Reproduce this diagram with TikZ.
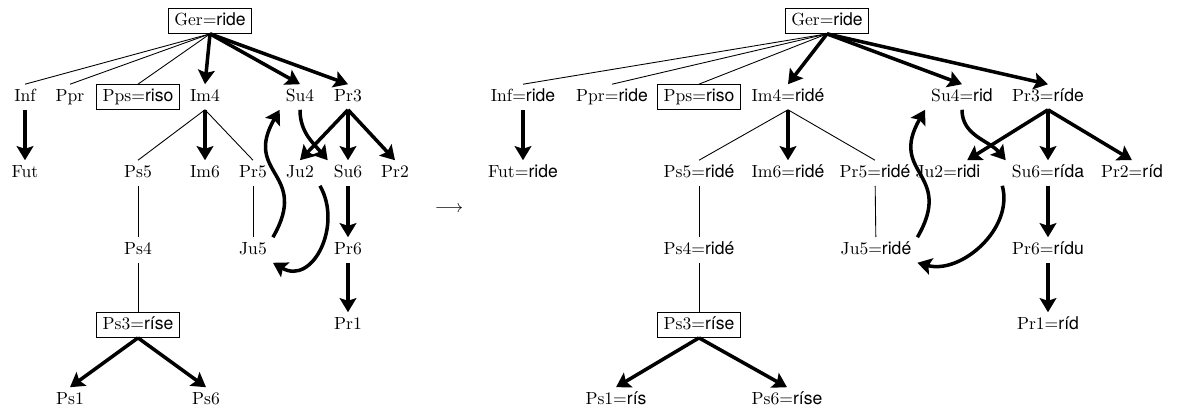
\documentclass[tikz,border=0pt]{standalone}
\usepackage{fontspec}
\setsansfont{TeX Gyre Heros}
\usetikzlibrary{arrows.meta}
\newcommand{\wform}[2]{#1=\textsf{#2}}

\begin{document}
\begin{tikzpicture}[
  x=0.2mm, y=-0.2mm,
  nd/.style={inner sep=3.3pt, text height=1.5ex, text depth=.25ex},
  box/.style={nd, draw, line width=0.5pt},
  ln/.style={line width=0.5pt},
  arr/.style={-{Stealth[length=8pt,width=9.5pt,inset=1.5pt]}, line width=2pt},
]
\useasboundingbox (0,0) rectangle (1180,409);

% left tree
\node[box] (lGer) at (210,21)  {\wform{Ger}{ride}};
\node[nd]  (lInf) at (25,97)   {Inf};
\node[nd]  (lPpr) at (70,97)   {Ppr};
\node[box] (lPps) at (138,97)  {\wform{Pps}{riso}};
\node[nd]  (lIm4) at (205,97)  {Im4};
\node[nd]  (lSu4) at (300,97)  {Su4};
\node[nd]  (lPr3) at (348,97)  {Pr3};
\node[nd]  (lFut) at (25,173)  {Fut};
\node[nd]  (lPs5) at (138,173) {Ps5};
\node[nd]  (lIm6) at (205,173) {Im6};
\node[nd]  (lPr5) at (253,173) {Pr5};
\node[nd]  (lJu2) at (300,173) {Ju2};
\node[nd]  (lSu6) at (348,173) {Su6};
\node[nd]  (lPr2) at (395,173) {Pr2};
\node[nd]  (lPs4) at (138,250) {Ps4};
\node[nd]  (lJu5) at (253,250) {Ju5};
\node[nd]  (lPr6) at (348,250) {Pr6};
\node[box] (lPs3) at (138,325) {\wform{Ps3}{ríse}};
\node[nd]  (lPr1) at (348,325) {Pr1};
\node[nd]  (lPs1) at (70,400)  {Ps1};
\node[nd]  (lPs6) at (206,400) {Ps6};

\draw[ln]  (lGer.south) -- (lInf.north);
\draw[ln]  (lGer.south) -- (lPpr.north);
\draw[ln]  (lGer.south) -- (lPps.north);
\draw[arr] (lGer.south) -- (lIm4.north);
\draw[arr] (lGer.south) -- (lSu4.north);
\draw[arr] (lGer.south) -- (lPr3.north);
\draw[arr] (lInf) -- (lFut);
\draw[ln]  (lIm4.south) -- (lPs5.north);
\draw[arr] (lIm4) -- (lIm6);
\draw[ln]  (lIm4.south) -- (lPr5.north);
\draw[arr] (lPr3.south) -- (lJu2.north);
\draw[arr] (lPr3) -- (lSu6);
\draw[arr] (lPr3.south) -- (lPr2.north);
\draw[arr] (lSu4.south) to[out=-90, in=130] (lSu6.north west);
\draw[ln]  (lPs5) -- (lPs4);
\draw[ln]  (lPs4) -- (lPs3);
\draw[ln]  (lPr5) -- (lJu5);
\draw[arr] (lSu6) -- (lPr6);
\draw[arr] (lPr6) -- (lPr1);
\draw[arr] (lJu5.north east) to[out=60, in=-120, looseness=1.5] (lSu4.south west);
\draw[arr] (lJu2.south east) to[out=-60, in=-30, looseness=1.3] (lJu5.south east);
\draw[arr] (lPs3.south) -- (lPs1.north);
\draw[arr] (lPs3.south) -- (lPs6.north);

\node (arrow) at (449,209) {$\longrightarrow$};

% right tree
\node[box] (rGer) at (827,21)   {\wform{Ger}{ride}};
\node[nd]  (rInf) at (523,97)   {\wform{Inf}{ride}};
\node[nd]  (rPpr) at (612,97)   {\wform{Ppr}{ride}};
\node[box] (rPps) at (699,97)   {\wform{Pps}{riso}};
\node[nd]  (rIm4) at (788,97)   {\wform{Im4}{ridé}};
\node[nd]  (rSu4) at (962,97)   {\wform{Su4}{rid}};
\node[nd]  (rPr3) at (1048,97)  {\wform{Pr3}{ríde}};
\node[nd]  (rFut) at (523,173)  {\wform{Fut}{ride}};
\node[nd]  (rPs5) at (699,173)  {\wform{Ps5}{ridé}};
\node[nd]  (rIm6) at (788,173)  {\wform{Im6}{ridé}};
\node[nd]  (rPr5) at (875,173)  {\wform{Pr5}{ridé}};
\node[nd]  (rJu2) at (948,173)  {\wform{Ju2}{ridi}};
\node[nd]  (rSu6) at (1048,173) {\wform{Su6}{rída}};
\node[nd]  (rPr2) at (1132,173) {\wform{Pr2}{ríd}};
\node[nd]  (rPs4) at (699,250)  {\wform{Ps4}{ridé}};
\node[nd]  (rJu5) at (876,250)  {\wform{Ju5}{ridé}};
\node[nd]  (rPr6) at (1048,250) {\wform{Pr6}{rídu}};
\node[box] (rPs3) at (699,325)  {\wform{Ps3}{ríse}};
\node[nd]  (rPr1) at (1048,325) {\wform{Pr1}{ríd}};
\node[nd]  (rPs1) at (616,400)  {\wform{Ps1}{rís}};
\node[nd]  (rPs6) at (787,400)  {\wform{Ps6}{ríse}};

\draw[ln]  (rGer.south) -- (rInf.north);
\draw[ln]  (rGer.south) -- (rPpr.north);
\draw[ln]  (rGer.south) -- (rPps.north);
\draw[arr] (rGer.south) -- (rIm4.north);
\draw[arr] (rGer.south) -- (rSu4.north);
\draw[arr] (rGer.south) -- (rPr3.north);
\draw[arr] (rInf) -- (rFut);
\draw[ln]  (rIm4.south) -- (rPs5.north);
\draw[arr] (rIm4) -- (rIm6);
\draw[ln]  (rIm4.south) -- (rPr5.north);
\draw[arr] (rPr3.south) -- ([xshift=-11pt]rJu2.north east);
\draw[arr] (rPr3) -- (rSu6);
\draw[arr] (rPr3.south) -- (rPr2.north);
\draw[arr] (rSu4.south) to[out=-90, in=130] (rSu6.north west);
\draw[ln]  (rPs5) -- (rPs4);
\draw[ln]  (rPs4) -- (rPs3);
\draw[ln]  (rPr5) -- (rJu5);
\draw[arr] (rSu6) -- (rPr6);
\draw[arr] (rPr6) -- (rPr1);
\draw[arr] (rJu5.north east) to[out=60, in=-120, looseness=1.5] (rSu4.south west);
\draw[arr] ([xshift=9pt]rJu2.south east) to[out=-75, in=-15] (rJu5.south east);
\draw[arr] (rPs3.south) -- (rPs1.north);
\draw[arr] (rPs3.south) -- (rPs6.north);
\end{tikzpicture}
\end{document}
